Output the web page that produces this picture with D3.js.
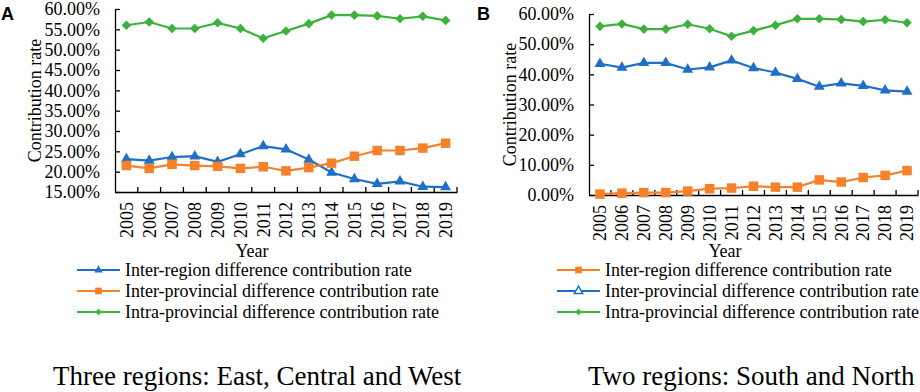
<!DOCTYPE html>
<html>
<head>
<meta charset="utf-8">
<script src="https://cdn.jsdelivr.net/npm/d3@7"></script>
<style>
  body { margin: 0; background: #fff; }
  text { font-family: "Liberation Serif", "Times New Roman", serif; fill: #000; }
</style>
</head>
<body>
<svg id="chart" width="920" height="392"></svg>
<script>
const years = [2005, 2006, 2007, 2008, 2009, 2010, 2011, 2012, 2013, 2014, 2015, 2016, 2017, 2018, 2019]

// panel A : three regions
const threeInterRegion = [23.1, 22.7, 23.6, 23.8, 22.4, 24.3, 26.3, 25.5, 23.0, 19.8, 18.2, 17.0, 17.6, 16.3, 16.2]
const threeInterProvincial = [21.5, 20.8, 21.8, 21.5, 21.3, 20.8, 21.2, 20.2, 21.0, 22.1, 23.8, 25.2, 25.2, 25.8, 27.0]
const threeIntraProvincial = [56.0, 56.8, 55.2, 55.2, 56.6, 55.2, 52.8, 54.6, 56.4, 58.5, 58.5, 58.3, 57.6, 58.2, 57.2]

// panel B : two regions
const twoInterRegion = [0.3, 0.6, 0.8, 0.8, 1.3, 2.1, 2.3, 2.9, 2.6, 2.6, 5.0, 4.3, 5.8, 6.5, 8.1]
const twoInterProvincial = [43.5, 42.2, 43.8, 43.8, 41.6, 42.3, 44.6, 42.1, 40.6, 38.5, 35.9, 37.0, 36.2, 34.7, 34.3]
const twoIntraProvincial = [55.9, 56.7, 55.0, 55.0, 56.6, 55.1, 52.6, 54.5, 56.3, 58.4, 58.4, 58.2, 57.5, 58.1, 57.1]

const ticksA = [15, 20, 25, 30, 35, 40, 45, 50, 55, 60]
const ticksB = [0, 10, 20, 30, 40, 50, 60]

const labelsA = ["Inter-region difference contribution rate", "Inter-provincial difference contribution rate", "Intra-provincial difference contribution rate"]
const labelsB = ["Inter-region difference contribution rate", "Inter-provincial difference contribution rate", "Intra-provincial difference contribution rate"]

const blue = "#1f6fc6", orange = "#f5822a", green = "#3cb23c"

const svg = d3.select("#chart")

const panels = [
  {
    letter: "A", letterX: 1,
    x0: 115, x1: 457, yTop: 9, yBottom: 192, domain: [15, 60], ticks: ticksA,
    yLabelX: 35, yearX: 252,
    legendX: 77, title: "Three regions: East, Central and West", titleX: 53,
    series: [
      {values: threeInterRegion, color: blue, marker: "triangle", label: labelsA[0]},
      {values: threeInterProvincial, color: orange, marker: "square", label: labelsA[1]},
      {values: threeIntraProvincial, color: green, marker: "diamond", label: labelsA[2]}
    ]
  },
  {
    letter: "B", letterX: 477,
    x0: 589, x1: 918, yTop: 14, yBottom: 195, domain: [0, 60], ticks: ticksB,
    yLabelX: 510, yearX: 725,
    legendX: 557, title: "Two regions: South and North", titleX: 588,
    series: [
      {values: twoInterRegion, color: orange, marker: "square", label: labelsB[0]},
      {values: twoInterProvincial, color: blue, marker: "triangle", label: labelsB[1], hollowLegend: true},
      {values: twoIntraProvincial, color: green, marker: "diamond", label: labelsB[2]}
    ]
  }
]

const symbolFor = (m, small) => {
  if (m === "triangle") return d3.symbol().type(d3.symbolTriangle).size(small ? 30 : 52)()
  if (m === "square") return d3.symbol().type(d3.symbolSquare).size(small ? 45 : 90)()
  return d3.symbol().type(d3.symbolSquare).size(small ? 22 : 46)()
}

panels.forEach(p => {
  const g = svg.append("g")

  const x = d3.scaleBand().domain(years).range([p.x0, p.x1]).padding(0)
  const cx = d => x(d) + x.bandwidth() / 2
  const y = d3.scaleLinear().domain(p.domain).range([p.yBottom, p.yTop])

  // y axis, ticks inward
  const yAxis = g.append("g")
    .attr("transform", `translate(${p.x0},0)`)
    .call(d3.axisLeft(y).tickValues(p.ticks).tickSize(-5).tickSizeOuter(0)
      .tickPadding(15).tickFormat(v => v.toFixed(2) + "%"))
  yAxis.select(".domain").attr("stroke", "#000").attr("stroke-width", 1.3)
  yAxis.selectAll(".tick line").attr("stroke", "#000").attr("stroke-width", 1.3)
  yAxis.selectAll("text").style("font-size", "18px").style("font-family", "Liberation Serif")

  // x axis
  const xAxis = g.append("g")
    .attr("transform", `translate(0,${p.yBottom})`)
    .call(d3.axisBottom(x).tickSize(0).tickSizeOuter(0).tickPadding(0))
  xAxis.select(".domain").attr("stroke", "#000").attr("stroke-width", 1.3)
  xAxis.selectAll("text")
    .style("font-size", "18px").style("font-family", "Liberation Serif")
    .attr("text-anchor", "end")
    .attr("transform", "translate(0,10) rotate(-90)")
    .attr("x", 0).attr("y", 0).attr("dy", "0.35em")

  // tick marks between categories (inward)
  const bounds = years.slice(1).map(d => x(d)).concat([p.x1])
  g.selectAll(".xtick").data(bounds).join("line")
    .attr("x1", d => d).attr("x2", d => d)
    .attr("y1", p.yBottom).attr("y2", p.yBottom - 5)
    .attr("stroke", "#000").attr("stroke-width", 1.3)

  // lines and markers
  const line = d3.line().x((d, i) => cx(years[i])).y(d => y(d))
  p.series.forEach(s => {
    g.append("path").datum(s.values)
      .attr("d", line).attr("fill", "none")
      .attr("stroke", s.color).attr("stroke-width", 2.2)
    g.selectAll(null).data(s.values).join("path")
      .attr("d", symbolFor(s.marker, false))
      .attr("transform", (d, i) => `translate(${cx(years[i])},${y(d)})` + (s.marker === "diamond" ? " rotate(45)" : ""))
      .attr("fill", s.color)
  })

  // axis titles
  g.append("text")
    .attr("transform", `translate(${p.yLabelX},${(p.yTop + p.yBottom) / 2}) rotate(-90)`)
    .attr("text-anchor", "middle").attr("dy", "0.35em")
    .style("font-size", "18px")
    .text("Contribution rate")

  g.append("text")
    .attr("x", p.yearX).attr("y", 257)
    .attr("text-anchor", "middle")
    .style("font-size", "18px")
    .text("Year")

  // legend
  p.series.forEach((s, i) => {
    const ly = 270 + i * 21
    g.append("line")
      .attr("x1", p.legendX).attr("x2", p.legendX + 43)
      .attr("y1", ly).attr("y2", ly)
      .attr("stroke", s.color).attr("stroke-width", 2.2)
    g.append("path")
      .attr("d", symbolFor(s.marker, true))
      .attr("transform", `translate(${p.legendX + 21.5},${ly})` + (s.marker === "diamond" ? " rotate(45)" : ""))
      .attr("fill", s.hollowLegend ? "#fff" : s.color)
      .attr("stroke", s.hollowLegend ? s.color : "none")
      .attr("stroke-width", 1.5)
    g.append("text")
      .attr("x", p.legendX + 48).attr("y", ly + 6)
      .style("font-size", "18px")
      .text(s.label)
  })

  // panel letter and caption
  g.append("text")
    .attr("x", p.letterX).attr("y", 20)
    .style("font-family", "Liberation Sans, Arial, sans-serif")
    .style("font-weight", "bold").style("font-size", "18px")
    .text(p.letter)

  g.append("text")
    .attr("x", p.titleX).attr("y", 385)
    .style("font-size", "27px")
    .text(p.title)
})
</script>
</body>
</html>
